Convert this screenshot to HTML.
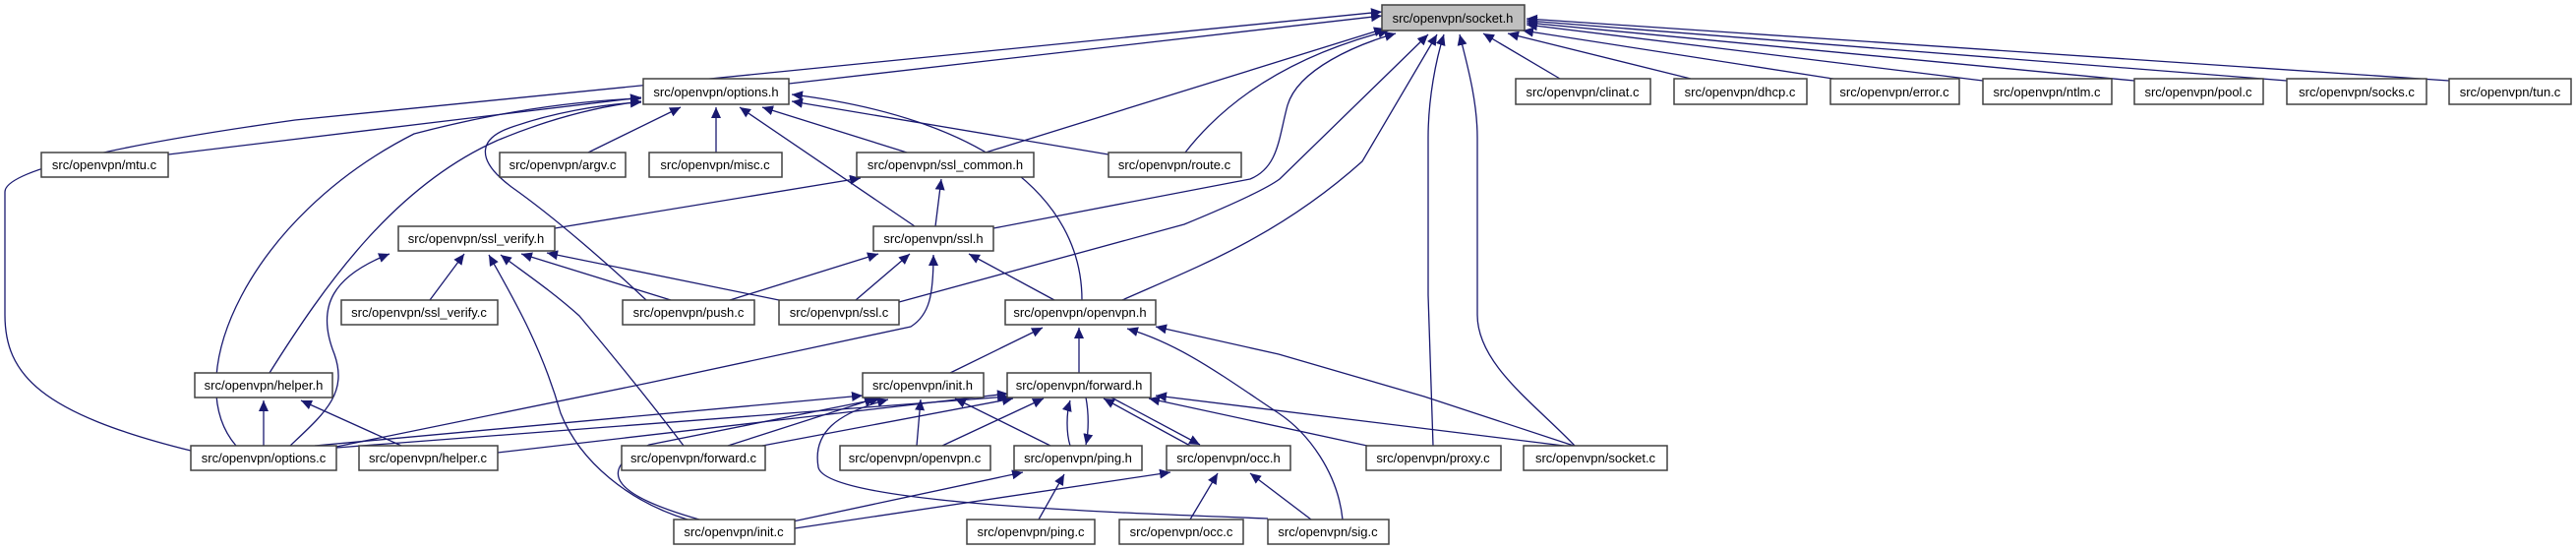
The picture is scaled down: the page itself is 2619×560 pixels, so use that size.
<!DOCTYPE html>
<html><head><meta charset="utf-8"><style>
html,body{margin:0;padding:0;background:#fff;}
svg{display:block;}
text{font-family:"Liberation Sans",Arial,sans-serif;font-size:13px;fill:#000;}
.e{fill:none;stroke:#191970;stroke-width:1.3;marker-end:url(#a);}
.b{fill:#fff;stroke:#404040;stroke-width:1.5;}
</style></head><body>
<svg width="2619" height="560" viewBox="0 0 2619 560" xmlns="http://www.w3.org/2000/svg">
<defs><marker id="a" markerUnits="userSpaceOnUse" markerWidth="12" markerHeight="10" refX="11" refY="5" orient="auto"><path d="M0,0 L11,5 L0,10 Z" fill="#191970"/></marker></defs>
<g>
<!-- to socket.h -->
<path class="e" d="M802,85 L1405,16"/>
<path class="e" d="M194,458 C40,420 5,380 5,320 L5,195 C5,175 100,150 300,122 L1405,12"/>
<path class="e" d="M1002,155 L1408,29"/>
<path class="e" d="M1205,155 C1240,110 1300,60 1412,31"/>
<path class="e" d="M1010,232 L1271,182 C1300,170 1300,140 1309,107 C1320,70 1380,45 1419,34"/>
<path class="e" d="M914,307 L1204,228 C1260,205 1290,190 1301,182 L1452,35"/>
<path class="e" d="M1141,305 C1220,270 1300,240 1385,164 L1461,35"/>
<path class="e" d="M1457,453 L1452,300 L1452,140 C1452,100 1460,60 1468,35"/>
<path class="e" d="M1601,453 C1560,410 1502,370 1502,320 L1502,140 C1502,100 1490,60 1484,35"/>
<path class="e" d="M1586,80 L1508,34"/>
<path class="e" d="M1719,80 L1533,34"/>
<path class="e" d="M1870,81 L1548,31"/>
<path class="e" d="M2016,82 L1552,25"/>
<path class="e" d="M2170,82 L1552,23"/>
<path class="e" d="M2325,82 L1552,21"/>
<path class="e" d="M2490,82 L1552,19"/>
<!-- to options.h -->
<path class="e" d="M171,157 L652,99"/>
<path class="e" d="M240,453 C181,385 253,221 421,136 C520,110 600,102 652,100"/>
<path class="e" d="M274,379 C330,290 400,190 505,143 C560,120 610,108 652,103"/>
<path class="e" d="M657,305 C620,270 564,221 520,190 C480,160 490,140 518,130 C560,115 610,106 652,104"/>
<path class="e" d="M598,155 L692,109"/>
<path class="e" d="M728,155 L728,109"/>
<path class="e" d="M930,230 L752,109"/>
<path class="e" d="M922,155 L775,109"/>
<path class="e" d="M1100,305 C1100,200 1000,120 805,96"/>
<path class="e" d="M1127,157 L805,103"/>
<!-- ssl_common.h -->
<path class="e" d="M564,232 L875,181"/>
<path class="e" d="M951,230 L957,182"/>
<!-- ssl_verify.h -->
<path class="e" d="M295,453 C330,420 354,400 340,360 C320,310 340,280 396,258"/>
<path class="e" d="M437,305 L472,258"/>
<path class="e" d="M699,528 C640,510 590,470 570,420 C550,350 520,300 497,259"/>
<path class="e" d="M695,453 C670,420 630,370 589,321 C560,295 530,275 509,259"/>
<path class="e" d="M682,305 L530,258"/>
<path class="e" d="M792,305 L556,257"/>
<!-- ssl.h -->
<path class="e" d="M742,305 L893,258"/>
<path class="e" d="M870,305 L925,258"/>
<path class="e" d="M1072,305 L985,258"/>
<path class="e" d="M337,455 L660,389 L926,332 C945,320 949,300 949,259"/>
<!-- openvpn.h -->
<path class="e" d="M966,379 L1060,333"/>
<path class="e" d="M1097,379 L1097,333"/>
<path class="e" d="M1365,528 C1360,480 1330,440 1300,420 C1240,380 1200,350 1146,334"/>
<path class="e" d="M1600,453 L1448,403 L1300,360 L1175,332"/>
<!-- init.h -->
<path class="e" d="M320,453 L877,402"/>
<path class="e" d="M740,453 L890,405"/>
<path class="e" d="M711,528 C630,505 600,480 660,452 L895,405"/>
<path class="e" d="M932,453 L936,406"/>
<path class="e" d="M1068,453 L971,405"/>
<path class="e" d="M1289,527 C1100,520 840,510 832,475 C826,440 850,420 903,406"/>
<!-- helper.h -->
<path class="e" d="M268,453 L268,407"/>
<path class="e" d="M408,453 L306,407"/>
<!-- forward.h -->
<path class="e" d="M342,455 L1025,403"/>
<path class="e" d="M775,453 L1030,405"/>
<path class="e" d="M506,460 L1025,400"/>
<path class="e" d="M958,453 L1061,405"/>
<path class="e" d="M1088,453 C1084,440 1084,420 1088,407"/>
<path class="e" d="M1104,404 C1107,420 1107,438 1104,452"/>
<path class="e" d="M1210,453 L1122,405"/>
<path class="e" d="M1130,404 L1220,452"/>
<path class="e" d="M1390,453 L1168,405"/>
<path class="e" d="M1590,453 L1175,402"/>
<!-- ping.h / occ.h -->
<path class="e" d="M806,530 L1040,480"/>
<path class="e" d="M1056,528 L1082,482"/>
<path class="e" d="M808,537 L1190,480"/>
<path class="e" d="M1210,528 L1238,481"/>
<path class="e" d="M1333,528 L1271,481"/>
</g>
<g>
<rect class="b" x="1405" y="5" width="145" height="26" style="fill:#bfbfbf"/><text x="1477" y="23" text-anchor="middle">src/openvpn/socket.h</text>
<rect class="b" x="654" y="80" width="148" height="26"/><text x="728" y="98" text-anchor="middle">src/openvpn/options.h</text>
<rect class="b" x="1541" y="80" width="137" height="26"/><text x="1609" y="98" text-anchor="middle">src/openvpn/clinat.c</text>
<rect class="b" x="1702" y="80" width="135" height="26"/><text x="1769" y="98" text-anchor="middle">src/openvpn/dhcp.c</text>
<rect class="b" x="1861" y="80" width="131" height="26"/><text x="1926" y="98" text-anchor="middle">src/openvpn/error.c</text>
<rect class="b" x="2016" y="80" width="131" height="26"/><text x="2081" y="98" text-anchor="middle">src/openvpn/ntlm.c</text>
<rect class="b" x="2170" y="80" width="131" height="26"/><text x="2235" y="98" text-anchor="middle">src/openvpn/pool.c</text>
<rect class="b" x="2325" y="80" width="142" height="26"/><text x="2396" y="98" text-anchor="middle">src/openvpn/socks.c</text>
<rect class="b" x="2490" y="80" width="124" height="26"/><text x="2552" y="98" text-anchor="middle">src/openvpn/tun.c</text>
<rect class="b" x="42" y="155" width="129" height="25"/><text x="106" y="172" text-anchor="middle">src/openvpn/mtu.c</text>
<rect class="b" x="508" y="155" width="128" height="25"/><text x="572" y="172" text-anchor="middle">src/openvpn/argv.c</text>
<rect class="b" x="660" y="155" width="135" height="25"/><text x="727" y="172" text-anchor="middle">src/openvpn/misc.c</text>
<rect class="b" x="871" y="155" width="180" height="25"/><text x="961" y="172" text-anchor="middle">src/openvpn/ssl_common.h</text>
<rect class="b" x="1127" y="155" width="135" height="25"/><text x="1194" y="172" text-anchor="middle">src/openvpn/route.c</text>
<rect class="b" x="405" y="230" width="159" height="25"/><text x="484" y="247" text-anchor="middle">src/openvpn/ssl_verify.h</text>
<rect class="b" x="888" y="230" width="122" height="25"/><text x="949" y="247" text-anchor="middle">src/openvpn/ssl.h</text>
<rect class="b" x="347" y="305" width="159" height="25"/><text x="426" y="322" text-anchor="middle">src/openvpn/ssl_verify.c</text>
<rect class="b" x="633" y="305" width="134" height="25"/><text x="700" y="322" text-anchor="middle">src/openvpn/push.c</text>
<rect class="b" x="792" y="305" width="122" height="25"/><text x="853" y="322" text-anchor="middle">src/openvpn/ssl.c</text>
<rect class="b" x="1022" y="305" width="153" height="25"/><text x="1098" y="322" text-anchor="middle">src/openvpn/openvpn.h</text>
<rect class="b" x="198" y="379" width="140" height="25"/><text x="268" y="396" text-anchor="middle">src/openvpn/helper.h</text>
<rect class="b" x="877" y="379" width="123" height="25"/><text x="938" y="396" text-anchor="middle">src/openvpn/init.h</text>
<rect class="b" x="1024" y="379" width="146" height="25"/><text x="1097" y="396" text-anchor="middle">src/openvpn/forward.h</text>
<rect class="b" x="194" y="453" width="148" height="25"/><text x="268" y="470" text-anchor="middle">src/openvpn/options.c</text>
<rect class="b" x="365" y="453" width="141" height="25"/><text x="435" y="470" text-anchor="middle">src/openvpn/helper.c</text>
<rect class="b" x="632" y="453" width="146" height="25"/><text x="705" y="470" text-anchor="middle">src/openvpn/forward.c</text>
<rect class="b" x="854" y="453" width="153" height="25"/><text x="930" y="470" text-anchor="middle">src/openvpn/openvpn.c</text>
<rect class="b" x="1031" y="453" width="130" height="25"/><text x="1096" y="470" text-anchor="middle">src/openvpn/ping.h</text>
<rect class="b" x="1186" y="453" width="126" height="25"/><text x="1249" y="470" text-anchor="middle">src/openvpn/occ.h</text>
<rect class="b" x="1389" y="453" width="137" height="25"/><text x="1457" y="470" text-anchor="middle">src/openvpn/proxy.c</text>
<rect class="b" x="1549" y="453" width="146" height="25"/><text x="1622" y="470" text-anchor="middle">src/openvpn/socket.c</text>
<rect class="b" x="685" y="528" width="123" height="25"/><text x="746" y="545" text-anchor="middle">src/openvpn/init.c</text>
<rect class="b" x="983" y="528" width="130" height="25"/><text x="1048" y="545" text-anchor="middle">src/openvpn/ping.c</text>
<rect class="b" x="1138" y="528" width="126" height="25"/><text x="1201" y="545" text-anchor="middle">src/openvpn/occ.c</text>
<rect class="b" x="1289" y="528" width="123" height="25"/><text x="1350" y="545" text-anchor="middle">src/openvpn/sig.c</text>
</g>
</svg>
</body></html>
